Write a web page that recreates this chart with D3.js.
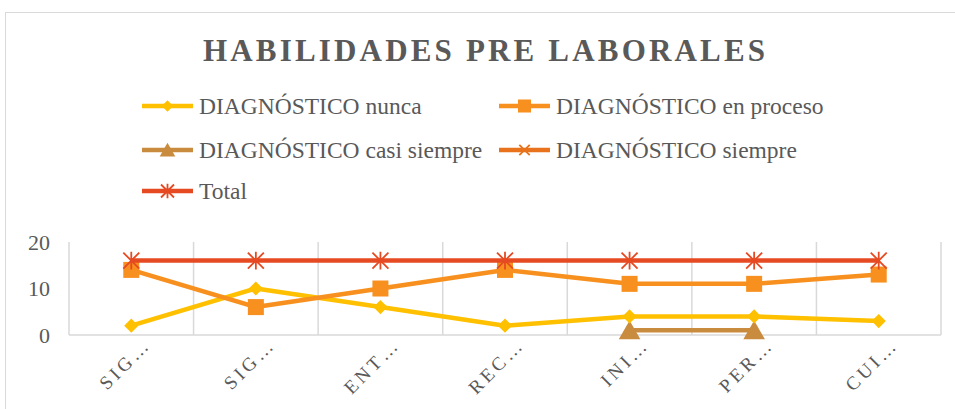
<!DOCTYPE html>
<html>
<head>
<meta charset="utf-8">
<script src="https://cdn.jsdelivr.net/npm/d3@7"></script>
<style>
  body { margin: 0; background: #fff; }
  svg { display: block; font-family: "Liberation Serif", "Times New Roman", serif; }
</style>
</head>
<body>
<div id="chart"></div>
<script>
var categories = ['SIG…', 'SIG…', 'ENT…', 'REC…', 'INI…', 'PER…', 'CUI…']
var nunca = [2, 10, 6, 2, 4, 4, 3]
var enProceso = [14, 6, 10, 14, 11, 11, 13]
var casiSiempre = [null, null, null, null, 1, 1, null]
var siempre = [null, null, null, null, null, null, null]
var total = [16, 16, 16, 16, 16, 16, 16]
var yTicks = [0, 10, 20]

var series = [
  { name: 'DIAGNÓSTICO nunca', values: nunca, color: '#FFC000', marker: 'diamond' },
  { name: 'DIAGNÓSTICO en proceso', values: enProceso, color: '#F7901E', marker: 'square' },
  { name: 'DIAGNÓSTICO casi siempre', values: casiSiempre, color: '#C98B3E', marker: 'triangle' },
  { name: 'DIAGNÓSTICO siempre', values: siempre, color: '#E8731C', marker: 'x' },
  { name: 'Total', values: total, color: '#E64A22', marker: 'star' }
]

var W = 955, H = 409
var svg = d3.select('#chart').append('svg')
    .attr('width', W)
    .attr('height', H)

// outer frame of the chart
svg.append('rect')
    .attr('x', 5.5).attr('y', 12.5)
    .attr('width', 960).attr('height', 420)
    .attr('fill', '#fff')
    .attr('stroke', '#d9d9d9')

svg.append('text')
    .attr('x', 484).attr('y', 61)
    .attr('text-anchor', 'middle')
    .attr('font-size', 31)
    .attr('font-weight', 'bold')
    .attr('fill', '#595959')
    .attr('textLength', 562)
    .attr('lengthAdjust', 'spacing')
    .text('HABILIDADES PRE LABORALES')

var plot = { left: 69, right: 941, top: 242, bottom: 335 }

var x = d3.scaleBand().domain(d3.range(categories.length))
    .range([plot.left, plot.right])
var y = d3.scaleLinear().domain([0, 20]).range([plot.bottom, plot.top])

// vertical gridlines at category boundaries
var bounds = d3.range(categories.length + 1).map(function (i) {
  return plot.left + i * x.step()
})
svg.selectAll('.grid').data(bounds).enter().append('line')
    .attr('x1', function (d) { return d }).attr('x2', function (d) { return d })
    .attr('y1', plot.top).attr('y2', plot.bottom)
    .attr('stroke', '#d9d9d9').attr('stroke-width', 1.5)

svg.append('line')
    .attr('x1', plot.left).attr('x2', plot.right)
    .attr('y1', plot.bottom).attr('y2', plot.bottom)
    .attr('stroke', '#d9d9d9').attr('stroke-width', 1.5)

var yAxis = svg.append('g')
    .attr('transform', 'translate(' + (plot.left - 19) + ',0)')
    .call(d3.axisLeft(y).tickValues(yTicks).tickSize(0).tickPadding(0))
yAxis.select('.domain').remove()
yAxis.selectAll('text')
    .attr('font-family', '"Liberation Serif", serif')
    .attr('font-size', 22)
    .attr('fill', '#595959')

var xAxis = svg.append('g')
    .attr('transform', 'translate(0,' + plot.bottom + ')')
    .call(d3.axisBottom(x).tickFormat(function (i) { return categories[i] }).tickSize(0))
xAxis.select('.domain').remove()
xAxis.selectAll('text')
    .attr('font-family', '"Liberation Serif", serif')
    .attr('font-size', 19)
    .attr('letter-spacing', 3.5)
    .attr('fill', '#595959')
    .attr('text-anchor', 'end')
    .attr('transform', 'translate(16,6) rotate(-45)')
    .attr('dy', '0.35em')
    .attr('y', 0)

function cx (i) { return x(i) + x.bandwidth() / 2 }

function drawMarker (g, type, color, s) {
  if (type === 'diamond') {
    g.append('path').attr('d', d3.symbol(d3.symbolDiamond2, s * s * 0.5)()).attr('fill', color)
  } else if (type === 'square') {
    g.append('rect').attr('x', -s / 2).attr('y', -s / 2).attr('width', s).attr('height', s).attr('fill', color)
  } else if (type === 'triangle') {
    g.append('path').attr('d', 'M0,' + (-s * 0.55) + 'L' + (s * 0.6) + ',' + (s * 0.5) + 'L' + (-s * 0.6) + ',' + (s * 0.5) + 'Z').attr('fill', color)
  } else if (type === 'x') {
    var h = s * 0.4
    g.append('path').attr('d', 'M' + -h + ',' + -h + 'L' + h + ',' + h + 'M' + h + ',' + -h + 'L' + -h + ',' + h)
        .attr('stroke', color).attr('stroke-width', 1.8)
  } else if (type === 'star') {
    var r = s * 0.5
    g.append('path').attr('d', 'M' + -r + ',' + -r + 'L' + r + ',' + r + 'M' + r + ',' + -r + 'L' + -r + ',' + r + 'M0,' + (-r * 1.1) + 'L0,' + (r * 1.1))
        .attr('stroke', color).attr('stroke-width', 1.8)
  }
}

var line = d3.line()
    .defined(function (d) { return d != null })
    .x(function (d, i) { return cx(i) })
    .y(function (d) { return y(d) })

var drawOrder = [2, 0, 1, 3, 4]
drawOrder.forEach(function (k) {
  var s = series[k]
  var g = svg.append('g')
  g.append('path')
      .datum(s.values)
      .attr('fill', 'none')
      .attr('stroke', s.color)
      .attr('stroke-width', 4.5)
      .attr('stroke-linejoin', 'round')
      .attr('d', line)
  s.values.forEach(function (v, i) {
    if (v == null) return
    var m = g.append('g').attr('transform', 'translate(' + cx(i) + ',' + y(v) + ')')
    drawMarker(m, s.marker, s.color, s.marker === 'triangle' ? 18 : 16)
  })
})

// legend
var legendPos = [
  { x: 142, y: 106 }, { x: 499, y: 106 },
  { x: 142, y: 150 }, { x: 499, y: 150 },
  { x: 142, y: 191 }
]
series.forEach(function (s, k) {
  var p = legendPos[k]
  var g = svg.append('g').attr('transform', 'translate(' + p.x + ',' + p.y + ')')
  g.append('line').attr('x1', 0).attr('x2', 51).attr('y1', 0).attr('y2', 0)
      .attr('stroke', s.color).attr('stroke-width', 4.5)
  var m = g.append('g').attr('transform', 'translate(25.5,0)')
  drawMarker(m, s.marker, s.color, 13)
  g.append('text')
      .attr('x', 57).attr('y', 0).attr('dy', '0.35em')
      .attr('font-size', 23.5)
      .attr('fill', '#595959')
      .text(s.name)
})
</script>
</body>
</html>
